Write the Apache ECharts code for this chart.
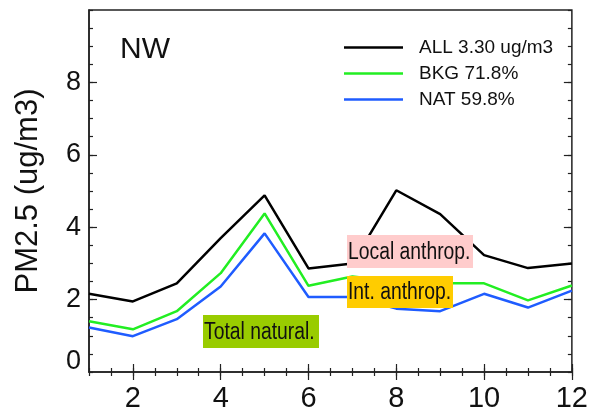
<!DOCTYPE html>
<html lang="en">
<head>
  <meta charset="UTF-8">
  <title>PM2.5 NW</title>
  <script src="https://cdn.jsdelivr.net/npm/echarts@6/dist/echarts.min.js"></script>
  <style>
    html, body { margin: 0; padding: 0; background: #fff; }
    #main { width: 591px; height: 414px; }
  </style>
</head>
<body>
  <div id="main"></div>
  <script type="text/javascript">
    // monthly values
    var months = [1, 2, 3, 4, 5, 6, 7, 8, 9, 10, 11, 12];
    var allVals = [2.16, 1.95, 2.45, 3.70, 4.88, 2.86, 3.00, 5.02, 4.36, 3.23, 2.87, 3.00];
    var bkgVals = [1.40, 1.18, 1.68, 2.73, 4.38, 2.38, 2.64, 2.50, 2.45, 2.45, 1.98, 2.39];
    var natVals = [1.23, 0.99, 1.46, 2.36, 3.83, 2.07, 2.07, 1.75, 1.68, 2.16, 1.78, 2.25];
    var seriesNames = ['ALL 3.30 ug/m3', 'BKG 71.8%', 'NAT 59.8%'];
    var xMajor = [2, 4, 6, 8, 10, 12];
    var yMajor = [2, 4, 6, 8];

    function pairs(vals) {
      return months.map(function (m, i) { return [m, vals[i]]; });
    }

    var tickCol = '#222';
    var font = 'Liberation Sans, Arial, sans-serif';

    // minor ticks (every 0.5) + labels
    function xMinor(pos, labels) {
      return {
        type: 'value', position: pos, min: 1, max: 12, interval: 0.5,
        axisLine: { show: pos === 'bottom', lineStyle: { color: tickCol, width: 1.5 } },
        axisTick: { inside: true, length: 4, lineStyle: { color: tickCol, width: 1.2 } },
        splitLine: { show: false },
        axisLabel: {
          show: labels, margin: 12, fontSize: 29, color: '#111', fontFamily: font,
          formatter: function (v) { return (v % 2 === 0) ? String(v) : ''; }
        }
      };
    }
    function xMaj(pos) {
      return {
        type: 'value', position: pos, min: 1, max: 12,
        axisLine: { show: false },
        axisTick: { inside: true, length: 8, customValues: xMajor, lineStyle: { color: tickCol, width: 1.2 } },
        axisLabel: { show: false }, splitLine: { show: false }
      };
    }
    function yMinor(pos, labels) {
      return {
        type: 'value', position: pos, min: 0, max: 10, interval: 0.5,
        axisLine: { show: pos === 'left', lineStyle: { color: tickCol, width: 1.5 } },
        axisTick: { inside: true, length: 4, lineStyle: { color: tickCol, width: 1.2 } },
        splitLine: { show: false },
        name: labels ? 'PM2.5 (ug/m3)' : '',
        nameLocation: 'middle', nameGap: 45, nameRotate: 90,
        nameTextStyle: { fontSize: 31, color: '#111', fontFamily: font },
        axisLabel: {
          show: labels, margin: 8, fontSize: 27, color: '#111', fontFamily: font,
          formatter: function (v) {
            if (v === 0) return '{z|0}';
            return (v % 2 === 0 && v < 10) ? String(v) : '';
          },
          rich: { z: { fontSize: 27, color: '#111', fontFamily: font, padding: [0, 0, 20, 0] } }
        }
      };
    }
    function yMaj(pos) {
      return {
        type: 'value', position: pos, min: 0, max: 10,
        axisLine: { show: false },
        axisTick: { inside: true, length: 8, customValues: yMajor, lineStyle: { color: tickCol, width: 1.2 } },
        axisLabel: { show: false }, splitLine: { show: false }
      };
    }

    function box(x, y, w, h, fill, label) {
      return {
        type: 'group', z: 100,
        children: [
          { type: 'rect', shape: { x: x, y: y, width: w, height: h }, style: { fill: fill }, z: 100 },
          {
            type: 'text', x: x + 1, y: y + h / 2 + 1, scaleX: 0.84, z: 101,
            style: { text: label, font: '23px ' + font, fill: '#111', textVerticalAlign: 'middle', verticalAlign: 'middle' }
          }
        ]
      };
    }

    var myChart = echarts.init(document.getElementById('main'));
    myChart.setOption({
      animation: false,
      backgroundColor: '#fff',
      grid: { left: 89, right: 18, top: 10, bottom: 42, show: true, borderColor: tickCol, borderWidth: 1.5 },
      xAxis: [xMinor('bottom', true), xMaj('bottom'), xMinor('top', false), xMaj('top')],
      yAxis: [yMinor('left', true), yMaj('left'), yMinor('right', false), yMaj('right')],
      legend: {
        orient: 'vertical', left: 339, top: 33, itemGap: 7,
        icon: 'rect', itemWidth: 59, itemHeight: 2.5,
        textStyle: { fontSize: 19, lineHeight: 19, color: '#111', fontFamily: font, padding: [0, 0, 0, 11] },
        data: seriesNames
      },
      graphic: [
        { type: 'text', x: 120, y: 65, style: { text: 'NW', font: '30px ' + font, fill: '#111', textBaseline: 'alphabetic', verticalAlign: 'bottom' } },
        box(347, 235, 126, 33, '#ffcccc', 'Local anthrop.'),
        box(347, 276, 106, 32, '#ffcc00', 'Int. anthrop.'),
        box(203, 315, 116, 33, '#99cc00', 'Total natural.')
      ],
      series: [
        { name: seriesNames[0], type: 'line', data: pairs(allVals), showSymbol: false, color: '#000', lineStyle: { width: 2.5, color: '#000' } },
        { name: seriesNames[1], type: 'line', data: pairs(bkgVals), showSymbol: false, color: '#22ee22', lineStyle: { width: 2.5, color: '#22ee22' } },
        { name: seriesNames[2], type: 'line', data: pairs(natVals), showSymbol: false, color: '#1f5cff', lineStyle: { width: 2.5, color: '#1f5cff' } }
      ]
    });
  </script>
</body>
</html>
